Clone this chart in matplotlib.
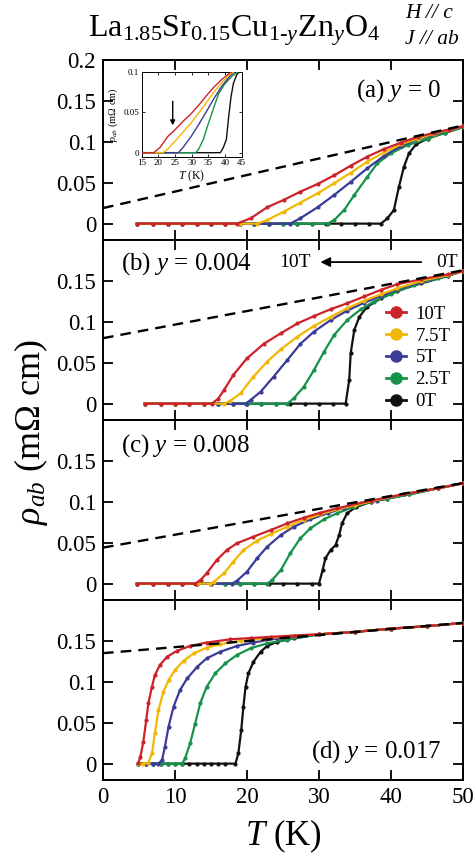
import matplotlib
matplotlib.use("Agg")
import matplotlib.pyplot as plt
from matplotlib.lines import Line2D
from matplotlib.ticker import FuncFormatter

plt.rcParams['font.family'] = ['Liberation Serif', 'DejaVu Serif']
plt.rcParams['mathtext.fontset'] = 'custom'
plt.rcParams['mathtext.rm'] = 'Liberation Serif'
plt.rcParams['mathtext.it'] = 'Liberation Serif:italic'
plt.rcParams['mathtext.bf'] = 'Liberation Serif:bold'

# ---------------- data ----------------
fields = ['10T', '7.5T', '5T', '2.5T', '0T']
colors = ['#cc2229', '#f2b705', '#3b3b98', '#16934a', '#111111']

dash_T = [0, 50]
dash_a = [0.019, 0.120]
dash_b = [0.080, 0.163]
dash_c = [0.044, 0.123]
dash_d = [0.135, 0.172]

# panel (a) y = 0
Ta_10 = [4.7, 7, 9, 11, 13, 15, 17, 18.6, 20.5, 22.8, 25.1, 27.4, 29.8, 32.1, 34.4, 36.7, 39.0, 41.4, 43.7, 46.0, 48.0, 50.0]
Ra_10 = [0, 0, 0, 0, 0, 0, 0, 0, 0.0065, 0.020, 0.029, 0.039, 0.0484, 0.059, 0.0708, 0.0818, 0.091, 0.099, 0.106, 0.111, 0.115, 0.119]
Ta_75 = [4.7, 7, 9, 11, 13, 15, 17, 19, 21.4, 22.8, 25.1, 27.4, 29.8, 32.1, 34.4, 36.7, 39.0, 41.4, 43.7, 46, 48, 50]
Ra_75 = [0, 0, 0, 0, 0, 0, 0, 0, 0, 0.0044, 0.0146, 0.0256, 0.037, 0.0493, 0.0622, 0.0757, 0.087, 0.097, 0.104, 0.110, 0.1145, 0.119]
Ta_5 = [4.7, 7, 9, 11, 13, 15, 17, 19, 21, 23, 26.0, 27.4, 29.8, 32.1, 34.4, 36.7, 39.0, 41.4, 43.7, 46, 48, 50]
Ra_5 = [0, 0, 0, 0, 0, 0, 0, 0, 0, 0, 0, 0.0065, 0.020, 0.035, 0.051, 0.0676, 0.0826, 0.095, 0.1034, 0.109, 0.114, 0.119]
Ta_25 = [4.7, 7, 9, 11, 13, 15, 17, 19, 21, 23, 25, 27, 29, 31.2, 32.1, 33.5, 34.9, 36.7, 38.1, 40.0, 42.3, 45.1, 47.5, 50]
Ra_25 = [0, 0, 0, 0, 0, 0, 0, 0, 0, 0, 0, 0, 0, 0, 0.0044, 0.0166, 0.035, 0.057, 0.0737, 0.086, 0.096, 0.104, 0.111, 0.118]
Ta_0 = [4.7, 7, 9, 11, 13, 15, 17, 19, 21, 23, 25, 27, 29, 31, 33, 35, 37, 38.6, 39.5, 40.4, 41.1, 41.8, 42.5, 43.5, 45.1, 47.5, 50]
Ra_0 = [0, 0, 0, 0, 0, 0, 0, 0, 0, 0, 0, 0, 0, 0, 0, 0, 0, 0, 0.0065, 0.0166, 0.045, 0.0696, 0.086, 0.097, 0.104, 0.111, 0.118]

# panel (b) y = 0.004
Tb_10 = [5.8, 8, 10, 12, 14, 15.1, 16.0, 16.8, 18.1, 20.0, 22.3, 24.7, 27.0, 29.3, 31.6, 33.9, 36.3, 38.6, 40.9, 44.2, 47.9, 50]
Rb_10 = [0, 0, 0, 0, 0, 0, 0.006, 0.0166, 0.035, 0.0554, 0.0729, 0.086, 0.098, 0.107, 0.1153, 0.1226, 0.131, 0.139, 0.146, 0.152, 0.158, 0.162]
Tb_75 = [5.8, 8, 10, 12, 14, 16.8, 17.7, 19.1, 20.9, 22.8, 24.7, 27.0, 29.3, 31.6, 33.9, 36.3, 38.6, 40.9, 44.2, 47.9, 50]
Rb_75 = [0, 0, 0, 0, 0, 0, 0.0036, 0.0126, 0.033, 0.0513, 0.0664, 0.0818, 0.0949, 0.106, 0.1165, 0.126, 0.1336, 0.141, 0.150, 0.157, 0.162]
Tb_5 = [5.8, 8, 10, 12, 14, 16, 18, 19.8, 20.5, 21.9, 23.7, 25.6, 27.4, 29.3, 31.6, 33.9, 36.3, 38.6, 40.9, 44.2, 47.9, 50]
Rb_5 = [0, 0, 0, 0, 0, 0, 0, 0, 0.0044, 0.0146, 0.033, 0.0533, 0.0729, 0.088, 0.102, 0.1136, 0.1234, 0.1315, 0.1398, 0.149, 0.157, 0.162]
Tb_25 = [5.8, 8, 10, 12, 14, 16, 18, 20, 22, 24, 25.6, 26.5, 27.9, 29.3, 30.7, 32.1, 33.9, 35.8, 37.6, 40.0, 43.2, 46.5, 50]
Rb_25 = [0, 0, 0, 0, 0, 0, 0, 0, 0, 0, 0, 0.0065, 0.0207, 0.041, 0.0635, 0.0839, 0.102, 0.1153, 0.1246, 0.134, 0.145, 0.153, 0.162]
Tb_0 = [5.8, 8, 10, 12, 14, 16, 18, 20, 22, 24, 26, 28, 30, 32, 33.7, 34.2, 34.4, 34.9, 35.6, 36.7, 38.6, 40.9, 44.2, 47.9, 50]
Rb_0 = [0, 0, 0, 0, 0, 0, 0, 0, 0, 0, 0, 0, 0, 0, 0, 0.029, 0.0615, 0.090, 0.106, 0.1185, 0.1287, 0.138, 0.147, 0.156, 0.162]

# panel (c) y = 0.008
Tc_10 = [4.7, 7, 9, 11, 12.8, 13.6, 14.4, 15.8, 17.2, 18.6, 20.9, 23.3, 25.6, 27.9, 30.2, 32.5, 37.2, 41.8, 46.5, 50]
Rc_10 = [0, 0, 0, 0, 0, 0.005, 0.0126, 0.0289, 0.041, 0.0493, 0.0574, 0.0655, 0.0737, 0.0806, 0.0867, 0.092, 0.1014, 0.1095, 0.1165, 0.1226]
Tc_75 = [4.7, 7, 9, 11, 13, 14.9, 15.4, 16.8, 18.1, 19.5, 21.4, 23.3, 25.6, 27.9, 30.2, 32.5, 35.0, 37.2, 41.8, 46.5, 50]
Rc_75 = [0, 0, 0, 0, 0, 0, 0.0023, 0.0126, 0.0268, 0.041, 0.0525, 0.0606, 0.0696, 0.0778, 0.0847, 0.0908, 0.096, 0.1005, 0.1095, 0.1165, 0.1226]
Tc_5 = [4.7, 7, 9, 11, 13, 15, 17.9, 18.6, 20.0, 21.4, 22.8, 24.7, 26.5, 28.8, 31.2, 33.5, 35.8, 38.0, 41.8, 46.5, 50]
Rc_5 = [0, 0, 0, 0, 0, 0, 0, 0.0035, 0.0146, 0.031, 0.0451, 0.0594, 0.0696, 0.0786, 0.086, 0.0928, 0.098, 0.1015, 0.1095, 0.1165, 0.1226]
Tc_25 = [4.7, 7, 9, 11, 13, 15, 17, 19, 21, 22.8, 23.5, 24.7, 26.0, 27.4, 28.8, 30.7, 32.5, 34.9, 37.2, 39.5, 42.5, 46.5, 50]
Rc_25 = [0, 0, 0, 0, 0, 0, 0, 0, 0, 0, 0.0044, 0.0166, 0.037, 0.0554, 0.0676, 0.0786, 0.086, 0.094, 0.1, 0.104, 0.109, 0.1165, 0.1226]
Tc_0 = [4.7, 7, 9, 11, 13, 15, 17, 19, 21, 23, 25, 27, 29, 30.0, 30.5, 30.9, 31.6, 32.3, 32.8, 33.2, 33.9, 35.1, 37.2, 39.5, 42.5, 46.5, 50]
Rc_0 = [0, 0, 0, 0, 0, 0, 0, 0, 0, 0, 0, 0, 0, 0, 0.0166, 0.031, 0.041, 0.047, 0.0594, 0.0737, 0.086, 0.0933, 0.0998, 0.104, 0.109, 0.1165, 0.1226]

# panel (d) y = 0.017
Td_10 = [4.9, 5.2, 5.6, 6.0, 6.3, 6.8, 7.2, 7.9, 8.9, 10.3, 12.1, 14.4, 17.7, 20.5, 23.3, 26.5, 30, 35, 40, 45, 50]
Rd_10 = [0.001, 0.0085, 0.0268, 0.053, 0.0737, 0.094, 0.108, 0.1205, 0.1307, 0.138, 0.1438, 0.148, 0.152, 0.1535, 0.155, 0.1565, 0.158, 0.161, 0.165, 0.168, 0.172]
Td_75 = [4.9, 5.5, 6.3, 6.8, 7.2, 7.7, 8.4, 9.1, 10.0, 11.2, 12.6, 14.4, 16.3, 19.1, 22.3, 26.5, 30, 35, 40, 45, 50]
Rd_75 = [0, 0, 0.001, 0.0126, 0.037, 0.0655, 0.088, 0.102, 0.1144, 0.1258, 0.1348, 0.1417, 0.146, 0.150, 0.1528, 0.1565, 0.158, 0.161, 0.165, 0.168, 0.172]
Td_5 = [4.9, 6, 7, 7.7, 8.2, 8.6, 9.1, 9.8, 10.7, 11.7, 13.1, 14.4, 16.3, 18.6, 20.9, 24.2, 27, 30, 35, 40, 45, 50]
Rd_5 = [0, 0, 0, 0, 0.0044, 0.0207, 0.045, 0.0696, 0.090, 0.1043, 0.1185, 0.1287, 0.1368, 0.1438, 0.148, 0.153, 0.156, 0.158, 0.161, 0.165, 0.168, 0.172]
Td_25 = [4.9, 6, 7, 8, 9, 10, 11.0, 11.4, 12.1, 12.8, 13.5, 14.4, 15.6, 17.0, 18.6, 20.5, 22.8, 25.6, 30, 35, 40, 45, 50]
Rd_25 = [0, 0, 0, 0, 0, 0, 0, 0.0065, 0.0248, 0.049, 0.0737, 0.094, 0.1104, 0.1226, 0.1328, 0.141, 0.147, 0.1515, 0.158, 0.161, 0.165, 0.168, 0.172]
Td_0 = [4.9, 6, 7, 8, 9, 10, 11, 12, 13, 14, 15, 16, 17, 18.4, 18.8, 19.2, 19.5, 19.8, 20.2, 20.9, 21.9, 22.8, 24.2, 26.5, 30, 35, 40, 45, 50]
Rd_0 = [0, 0, 0, 0, 0, 0, 0, 0, 0, 0, 0, 0, 0, 0, 0.0126, 0.041, 0.0696, 0.094, 0.1104, 0.1246, 0.1368, 0.1438, 0.149, 0.153, 0.158, 0.161, 0.165, 0.168, 0.172]

panel_labels = [r'(a) $y$ = 0', r'(b) $y$ = 0.004', r'(c) $y$ = 0.008', r'(d) $y$ = 0.017']
xticks = [0, 10, 20, 30, 40, 50]
yticks_top = [0, 0.05, 0.1, 0.15, 0.2]
yticks_low = [0, 0.05, 0.1, 0.15]
inset_xticks = [15, 20, 25, 30, 35, 40, 45]
inset_yticks = [0, 0.05, 0.1]

panels = [
    ([Ta_10, Ta_75, Ta_5, Ta_25, Ta_0], [Ra_10, Ra_75, Ra_5, Ra_25, Ra_0], dash_a),
    ([Tb_10, Tb_75, Tb_5, Tb_25, Tb_0], [Rb_10, Rb_75, Rb_5, Rb_25, Rb_0], dash_b),
    ([Tc_10, Tc_75, Tc_5, Tc_25, Tc_0], [Rc_10, Rc_75, Rc_5, Rc_25, Rc_0], dash_c),
    ([Td_10, Td_75, Td_5, Td_25, Td_0], [Rd_10, Rd_75, Rd_5, Rd_25, Rd_0], dash_d),
]

# ---------------- figure ----------------
W, H = 474, 860
fig = plt.figure(figsize=(W / 100, H / 100), dpi=100)

left = 103 / W
width = (463 - 103) / W
ph = 180 / H
top = 1 - 60 / H

fmt = FuncFormatter(lambda v, p: '{:g}'.format(v))
axes = []
for i, (Ts, Rs, dash) in enumerate(panels):
    ax = fig.add_axes([left, top - (i + 1) * ph, width, ph])
    axes.append(ax)
    # draw 0T first, 10T last
    for k in range(4, -1, -1):
        ax.plot(Ts[k], Rs[k], color=colors[k], lw=1.6, marker='o', ms=2.0,
                mec=colors[k], mfc=colors[k], zorder=3 + (4 - k))
    ax.plot(dash_T, dash, color='k', lw=1.7, dashes=(4.5, 3.0), zorder=10)
    ax.set_xlim(0, 50)
    ax.set_ylim(-0.02, 0.2)
    ax.set_xticks(xticks)
    ax.set_yticks(yticks_top if i == 0 else yticks_low)
    ax.yaxis.set_major_formatter(fmt)
    ax.tick_params(direction='in', length=7, width=1.3, top=True, right=True,
                   labelsize=16.5, pad=5)
    if i < 3:
        ax.tick_params(labelbottom=False)
    for s in ax.spines.values():
        s.set_linewidth(1.4)

# panel labels
axes[0].text(0.94, 0.83, panel_labels[0], transform=axes[0].transAxes, fontsize=18,
             ha='right', va='center')
axes[1].text(0.05, 0.87, panel_labels[1], transform=axes[1].transAxes, fontsize=18,
             ha='left', va='center')
axes[2].text(0.05, 0.86, panel_labels[2], transform=axes[2].transAxes, fontsize=18,
             ha='left', va='center')
axes[3].text(0.94, 0.16, panel_labels[3], transform=axes[3].transAxes, fontsize=18,
             ha='right', va='center')

# arrow in (b)
axb = axes[1]
axb.annotate('', xy=(30.2, 0.173), xytext=(44.2, 0.173),
             arrowprops=dict(arrowstyle='-|>', lw=1.3, color='k', mutation_scale=14,
                             shrinkA=0, shrinkB=0))
axb.text(26.7, 0.173, '10T', fontsize=14, ha='center', va='center')
axb.text(47.8, 0.173, '0T', fontsize=14, ha='center', va='center')

# legend in (b)
handles = [Line2D([], [], color=c, marker='o', ms=8, lw=2) for c in colors]
axb.legend(handles, fields, loc='center left', bbox_to_anchor=(0.785, 0.345),
           frameon=False, fontsize=13.5, handlelength=1.1, handletextpad=0.5,
           labelspacing=0.25, borderpad=0, borderaxespad=0)

# x tick labels / labels
axes[3].set_xlabel(r'$T$ (K)', fontsize=25, labelpad=7)
fig.text(0.065, 0.498, r'$\rho_{ab}$ (mΩ cm)', rotation=90, fontsize=26,
         ha='center', va='center')

# title
fig.text(88 / W, 1 - 36 / H,
         r'$\mathrm{La}_{1.85}\mathrm{Sr}_{0.15}\mathrm{Cu}_{1\text{-}y}\mathrm{Zn}_{y}\mathrm{O}_{4}$',
         fontsize=23, ha='left', va='baseline')
fig.text(405 / W, 1 - 14 / H, 'H // c', fontsize=15.5, style='italic', ha='left', va='center')
fig.text(405 / W, 1 - 40 / H, 'J // ab', fontsize=15.5, style='italic', ha='left', va='center')

# inset
ins = fig.add_axes([141.7 / W, 1 - 156.7 / H, 100 / W, 84.4 / H])
for k in range(4, -1, -1):
    ins.plot(panels[0][0][k], panels[0][1][k], color=colors[k], lw=1.0, zorder=3 + (4 - k))
ins.set_xlim(15, 45)
ins.set_ylim(-0.005, 0.1)
ins.set_xticks(inset_xticks)
ins.set_yticks(inset_yticks)
ins.yaxis.set_major_formatter(fmt)
ins.tick_params(direction='in', length=2.5, width=0.6, top=True, right=True,
                labelsize=6.5, pad=2)
for s in ins.spines.values():
    s.set_linewidth(0.7)
ins.set_xlabel(r'$T$ (K)', fontsize=8.5, labelpad=1)
ins.set_ylabel(r'$\rho_{ab}$ (mΩ cm)', fontsize=7.5, labelpad=2)
ins.annotate('', xy=(24.3, 0.034), xytext=(24.3, 0.064),
             arrowprops=dict(arrowstyle='-|>', lw=1.0, color='k', mutation_scale=7,
                             shrinkA=0, shrinkB=0))

fig.savefig('out.png', dpi=100)
